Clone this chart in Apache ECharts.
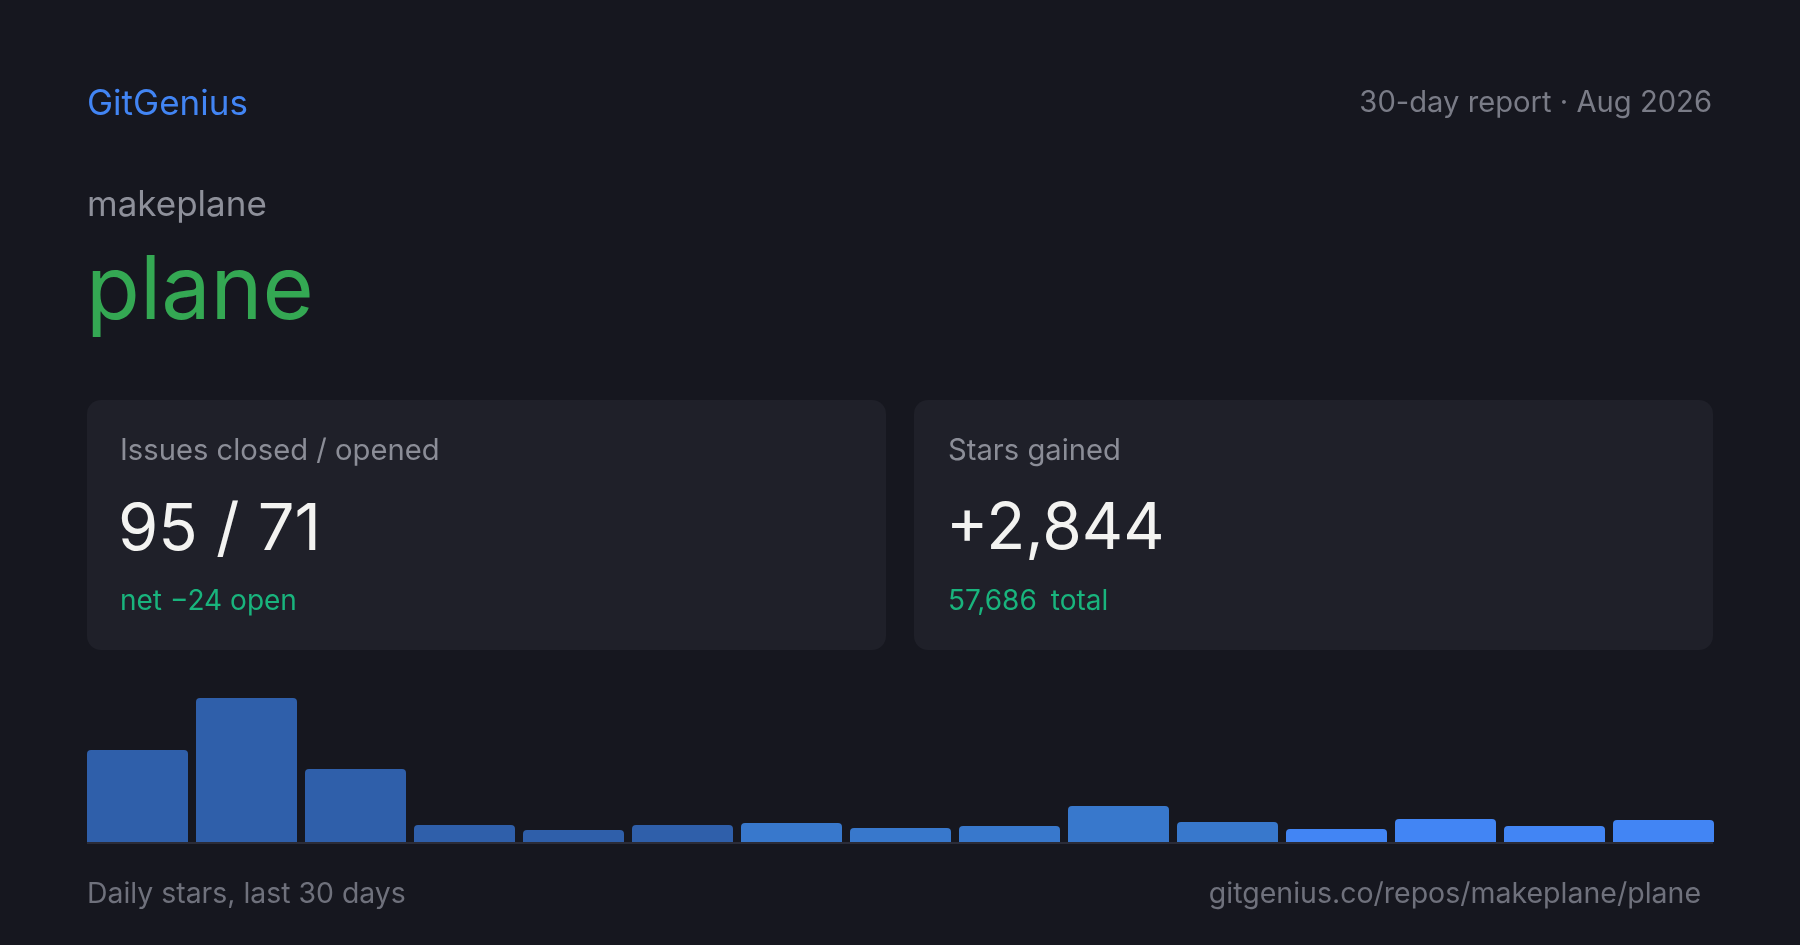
<!DOCTYPE html>
<html>
<head>
<meta charset="utf-8">
<script src="https://cdn.jsdelivr.net/npm/echarts@6/dist/echarts.min.js"></script>
<style>
html,body{margin:0;padding:0;background:#16171f;}
#chart{width:1800px;height:945px;}
</style>
</head>
<body>
<div id="chart"></div>
<script>
// ---- data ----
const brand = 'GitGenius';
const reportLabel = '30-day report \u00b7 Aug 2026';
const owner = 'makeplane';
const repo = 'plane';
const issuesClosed = 95;
const issuesOpened = 71;
const starsGained = 2844;
const starsTotal = 57686;
const periods = ['P1','P2','P3','P4','P5','P6','P7','P8','P9','P10','P11','P12','P13','P14','P15'];
const starValues = [490, 767, 389, 91, 64, 91, 101, 75, 85, 192, 107, 69, 122, 85, 117];
const footerLeft = 'Daily stars, last 30 days';
const footerRight = 'gitgenius.co/repos/makeplane/plane';

// ---- render ----
const FONT = 'Inter, "Noto Sans", sans-serif';
const fmt = n => n.toLocaleString('en-US');
const net = issuesOpened - issuesClosed;
const netText = 'net ' + (net < 0 ? '\u2212' + Math.abs(net) : '+' + net) + ' open';

function txt(x, y, text, size, fill, align, weight) {
  return {
    type: 'text', x: x, y: y, silent: true,
    style: {
      text: text, fontSize: size, fontFamily: FONT, fill: fill,
      align: align || 'left', verticalAlign: 'middle', fontWeight: weight || 400
    }
  };
}

const chart = echarts.init(document.getElementById('chart'), null, {renderer: 'canvas'});
chart.setOption({
  backgroundColor: '#16171f',
  animation: false,
  grid: {left: 83, right: 82, top: 698, bottom: 103},
  xAxis: {
    type: 'category', data: periods,
    axisLine: {show: false}, axisTick: {show: false}, axisLabel: {show: false}, splitLine: {show: false}
  },
  yAxis: {
    type: 'value', min: 0, max: 'dataMax',
    axisLine: {show: false}, axisTick: {show: false}, axisLabel: {show: false}, splitLine: {show: false}
  },
  series: [{
    type: 'bar',
    data: starValues,
    barWidth: 101,
    itemStyle: {
      borderRadius: [4, 4, 0, 0],
      color: function (p) {
        if (p.dataIndex < 6) return '#2f5faa';
        if (p.dataIndex < 11) return '#3878cc';
        return '#4285f4';
      }
    },
    z: 3
  }],
  graphic: [
    txt(87, 104, brand, 35, '#4285f4'),
    txt(1712, 103, reportLabel, 29.2, '#7a7c87', 'right'),
    txt(87, 205, owner, 35, '#8e909a'),
    txt(86, 293, repo, 88, '#34a853'),
    {type: 'rect', shape: {x: 87, y: 400, width: 799, height: 250, r: 14}, style: {fill: '#1f2029'}, z: -1, silent: true},
    {type: 'rect', shape: {x: 914, y: 400, width: 799, height: 250, r: 14}, style: {fill: '#1f2029'}, z: -1, silent: true},
    txt(120, 451, 'Issues closed / opened', 29.2, '#8b8d97'),
    txt(118, 530, issuesClosed + ' / ' + issuesOpened, 65, '#f3f3f1'),
    txt(120, 602, netText, 28, '#19b47d'),
    txt(948, 451, 'Stars gained', 29.2, '#8b8d97'),
    txt(946, 530, '+' + fmt(starsGained), 64, '#f3f3f1'),
    txt(948, 602, fmt(starsTotal) + '\u2002total', 28, '#19b47d'),
    {type: 'rect', shape: {x: 87, y: 842, width: 1626, height: 2}, style: {fill: '#2b2c38'}, silent: true},
    txt(87, 894, footerLeft, 28.4, '#6f717c'),
    txt(1701, 894, footerRight, 28.5, '#6f717c', 'right')
  ]
});
</script>
</body>
</html>
